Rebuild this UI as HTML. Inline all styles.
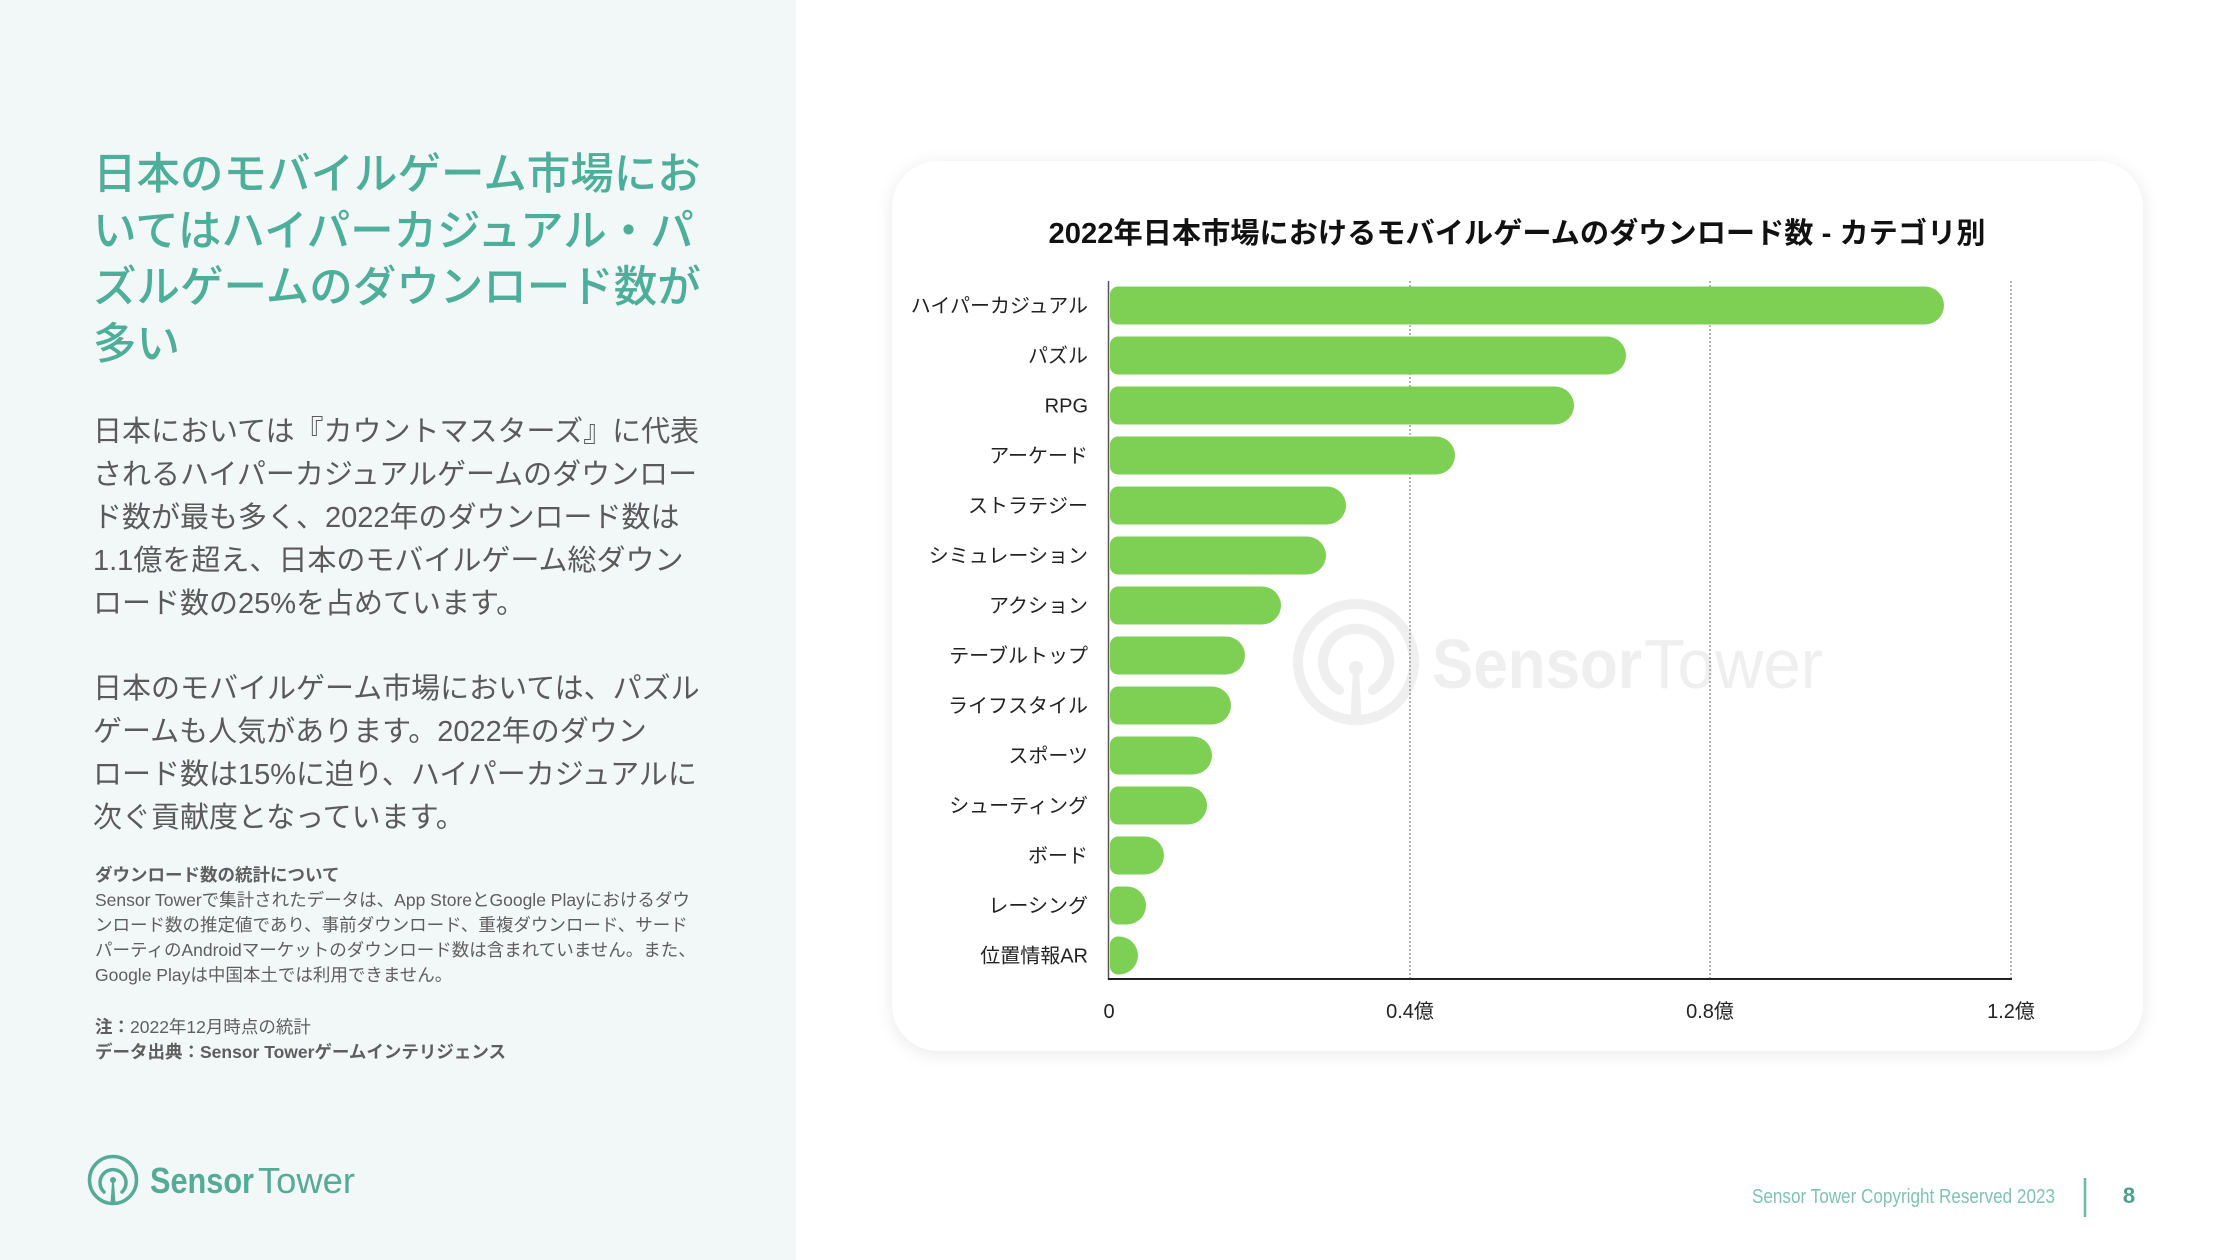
<!DOCTYPE html>
<html lang="ja">
<head>
<meta charset="utf-8">
<style>
  html, body { margin:0; padding:0; }
  body { width:2240px; height:1260px; position:relative; overflow:hidden; background:#ffffff;
         font-family:"Liberation Sans","Noto Sans CJK JP",sans-serif; }
  .left { position:absolute; left:0; top:0; width:796px; height:1260px; background:#f2f7f7; }
  .title { position:absolute; left:93px; top:147px; font-size:43.5px; line-height:56.5px; color:#4dae9a;
           white-space:nowrap; font-weight:500; }
  .para { position:absolute; left:93px; font-size:29px; line-height:43px; color:#5a5a5a; white-space:nowrap; }
  .note { position:absolute; left:95px; font-size:17.5px; line-height:25px; color:#5e5e5e; white-space:nowrap; }
  .card { position:absolute; left:892px; top:161px; width:1251px; height:890px; background:#fff;
          border-radius:46px; box-shadow:0 3px 18px rgba(0,0,0,0.09); }
  svg.ov { position:absolute; left:0; top:0; }
</style>
</head>
<body>
<div class="left"></div>

<div class="title">日本のモバイルゲーム市場にお<br>いてはハイパーカジュアル・パ<br>ズルゲームのダウンロード数が<br>多い</div>

<div class="para" style="top:411px;">日本においては『カウントマスターズ』に代表<br>されるハイパーカジュアルゲームのダウンロー<br>ド数が最も多く、2022年のダウンロード数は<br>1.1億を超え、日本のモバイルゲーム総ダウン<br>ロード数の25%を占めています。</div>

<div class="para" style="top:668px;">日本のモバイルゲーム市場においては、パズル<br>ゲームも人気があります。2022年のダウン<br>ロード数は15%に迫り、ハイパーカジュアルに<br>次ぐ貢献度となっています。</div>

<div class="note" style="top:863px;"><b>ダウンロード数の統計について</b><br>Sensor Towerで集計されたデータは、App StoreとGoogle Playにおけるダウ<br>ンロード数の推定値であり、事前ダウンロード、重複ダウンロード、サード<br>パーティのAndroidマーケットのダウンロード数は含まれていません。また、<br>Google Playは中国本土では利用できません。</div>

<div class="note" style="top:1015px;"><b>注：</b>2022年12月時点の統計<br><b>データ出典：Sensor Towerゲームインテリジェンス</b></div>

<div class="card"></div>

<svg class="ov" width="2240" height="1260" viewBox="0 0 2240 1260" xmlns="http://www.w3.org/2000/svg">
  <!-- left logo -->
  <g fill="none" stroke="#55ab96" stroke-width="3.5" stroke-linecap="round">
    <circle cx="113" cy="1180" r="23.5"/>
    <path d="M104 1192 A13 13 0 1 1 122 1192"/>
  </g>
  <circle cx="113" cy="1180" r="3" fill="#55ab96"/>
  <path d="M112 1182 L114 1182 L115.5 1203 L110.5 1203 Z" fill="#55ab96"/>
  <text x="150" y="1193" font-size="36" font-weight="bold" fill="#55ab96" textLength="104" lengthAdjust="spacingAndGlyphs">Sensor</text>
  <text x="258" y="1193" font-size="36" fill="#55ab96" textLength="97" lengthAdjust="spacingAndGlyphs">Tower</text>

  <!-- watermark -->
  <g fill="none" stroke="#efefef" stroke-width="10" stroke-linecap="round">
    <circle cx="1356" cy="662" r="58"/>
    <path d="M1339 690 A33 33 0 1 1 1373 690"/>
  </g>
  <circle cx="1356" cy="668" r="7" fill="#efefef"/>
  <path d="M1353 670 L1359 670 L1362 725 L1350 725 Z" fill="#efefef"/>
  <text x="1432" y="688" font-size="70" font-weight="bold" fill="#efefef" textLength="210" lengthAdjust="spacingAndGlyphs">Sensor</text>
  <text x="1644" y="688" font-size="70" fill="#efefef" textLength="179" lengthAdjust="spacingAndGlyphs">Tower</text>

  <!-- chart title -->
  <text x="1517" y="243" text-anchor="middle" font-size="29" font-weight="bold" fill="#111" textLength="937" lengthAdjust="spacingAndGlyphs">2022年日本市場におけるモバイルゲームのダウンロード数 - カテゴリ別</text>

  <!-- gridlines -->
  <g stroke="#8a8a8a" stroke-width="1.3" stroke-dasharray="2 2">
    <line x1="1410" y1="281" x2="1410" y2="979"/>
    <line x1="1710" y1="281" x2="1710" y2="979"/>
    <line x1="2011" y1="281" x2="2011" y2="979"/>
  </g>

  <!-- bars -->
  <g fill="#7ed054">
    <path d="M1118,286.5 H1925 A19 19 0 0 1 1944,305.5 A19 19 0 0 1 1925,324.5 H1118 A8 8 0 0 1 1110,316.5 V294.5 A8 8 0 0 1 1118,286.5 Z"/>
    <path d="M1118,336.5 H1607 A19 19 0 0 1 1626,355.5 A19 19 0 0 1 1607,374.5 H1118 A8 8 0 0 1 1110,366.5 V344.5 A8 8 0 0 1 1118,336.5 Z"/>
    <path d="M1118,386.5 H1555 A19 19 0 0 1 1574,405.5 A19 19 0 0 1 1555,424.5 H1118 A8 8 0 0 1 1110,416.5 V394.5 A8 8 0 0 1 1118,386.5 Z"/>
    <path d="M1118,436.5 H1436 A19 19 0 0 1 1455,455.5 A19 19 0 0 1 1436,474.5 H1118 A8 8 0 0 1 1110,466.5 V444.5 A8 8 0 0 1 1118,436.5 Z"/>
    <path d="M1118,486.5 H1327 A19 19 0 0 1 1346,505.5 A19 19 0 0 1 1327,524.5 H1118 A8 8 0 0 1 1110,516.5 V494.5 A8 8 0 0 1 1118,486.5 Z"/>
    <path d="M1118,536.5 H1307 A19 19 0 0 1 1326,555.5 A19 19 0 0 1 1307,574.5 H1118 A8 8 0 0 1 1110,566.5 V544.5 A8 8 0 0 1 1118,536.5 Z"/>
    <path d="M1118,586.5 H1262 A19 19 0 0 1 1281,605.5 A19 19 0 0 1 1262,624.5 H1118 A8 8 0 0 1 1110,616.5 V594.5 A8 8 0 0 1 1118,586.5 Z"/>
    <path d="M1118,636.5 H1226 A19 19 0 0 1 1245,655.5 A19 19 0 0 1 1226,674.5 H1118 A8 8 0 0 1 1110,666.5 V644.5 A8 8 0 0 1 1118,636.5 Z"/>
    <path d="M1118,686.5 H1212 A19 19 0 0 1 1231,705.5 A19 19 0 0 1 1212,724.5 H1118 A8 8 0 0 1 1110,716.5 V694.5 A8 8 0 0 1 1118,686.5 Z"/>
    <path d="M1118,736.5 H1193 A19 19 0 0 1 1212,755.5 A19 19 0 0 1 1193,774.5 H1118 A8 8 0 0 1 1110,766.5 V744.5 A8 8 0 0 1 1118,736.5 Z"/>
    <path d="M1118,786.5 H1188 A19 19 0 0 1 1207,805.5 A19 19 0 0 1 1188,824.5 H1118 A8 8 0 0 1 1110,816.5 V794.5 A8 8 0 0 1 1118,786.5 Z"/>
    <path d="M1118,836.5 H1145 A19 19 0 0 1 1164,855.5 A19 19 0 0 1 1145,874.5 H1118 A8 8 0 0 1 1110,866.5 V844.5 A8 8 0 0 1 1118,836.5 Z"/>
    <path d="M1118,886.5 H1127 A19 19 0 0 1 1146,905.5 A19 19 0 0 1 1127,924.5 H1118 A8 8 0 0 1 1110,916.5 V894.5 A8 8 0 0 1 1118,886.5 Z"/>
    <path d="M1119,936.5 A19 19 0 0 1 1138,955.5 A19 19 0 0 1 1119,974.5 H1118 A8 8 0 0 1 1110,966.5 V944.5 A8 8 0 0 1 1118,936.5 Z"/>
  </g>

  <!-- axes -->
  <line x1="1108.5" y1="281" x2="1108.5" y2="980" stroke="#555" stroke-width="1.5"/>
  <line x1="1108" y1="979" x2="2012" y2="979" stroke="#222" stroke-width="2"/>

  <!-- category labels -->
  <g font-size="20" fill="#222" text-anchor="end">
    <text x="1088" y="312.5">ハイパーカジュアル</text>
    <text x="1088" y="362.5">パズル</text>
    <text x="1088" y="412.5">RPG</text>
    <text x="1088" y="462.5">アーケード</text>
    <text x="1088" y="512.5">ストラテジー</text>
    <text x="1088" y="562.5">シミュレーション</text>
    <text x="1088" y="612.5">アクション</text>
    <text x="1088" y="662.5">テーブルトップ</text>
    <text x="1088" y="712.5">ライフスタイル</text>
    <text x="1088" y="762.5">スポーツ</text>
    <text x="1088" y="812.5">シューティング</text>
    <text x="1088" y="862.5">ボード</text>
    <text x="1088" y="912.5">レーシング</text>
    <text x="1088" y="962.5">位置情報AR</text>
  </g>

  <!-- tick labels -->
  <g font-size="20" fill="#222" text-anchor="middle">
    <text x="1109" y="1018">0</text>
    <text x="1410" y="1018">0.4億</text>
    <text x="1710" y="1018">0.8億</text>
    <text x="2011" y="1018">1.2億</text>
  </g>

  <!-- footer -->
  <text x="1752" y="1203" font-size="20" fill="#80c2b1" textLength="303" lengthAdjust="spacingAndGlyphs">Sensor Tower Copyright Reserved 2023</text>
  <line x1="2085" y1="1178" x2="2085" y2="1217" stroke="#6db8a5" stroke-width="2.5"/>
  <text x="2129" y="1203" font-size="22" font-weight="bold" fill="#4e9e8c" text-anchor="middle">8</text>
</svg>
</body>
</html>
